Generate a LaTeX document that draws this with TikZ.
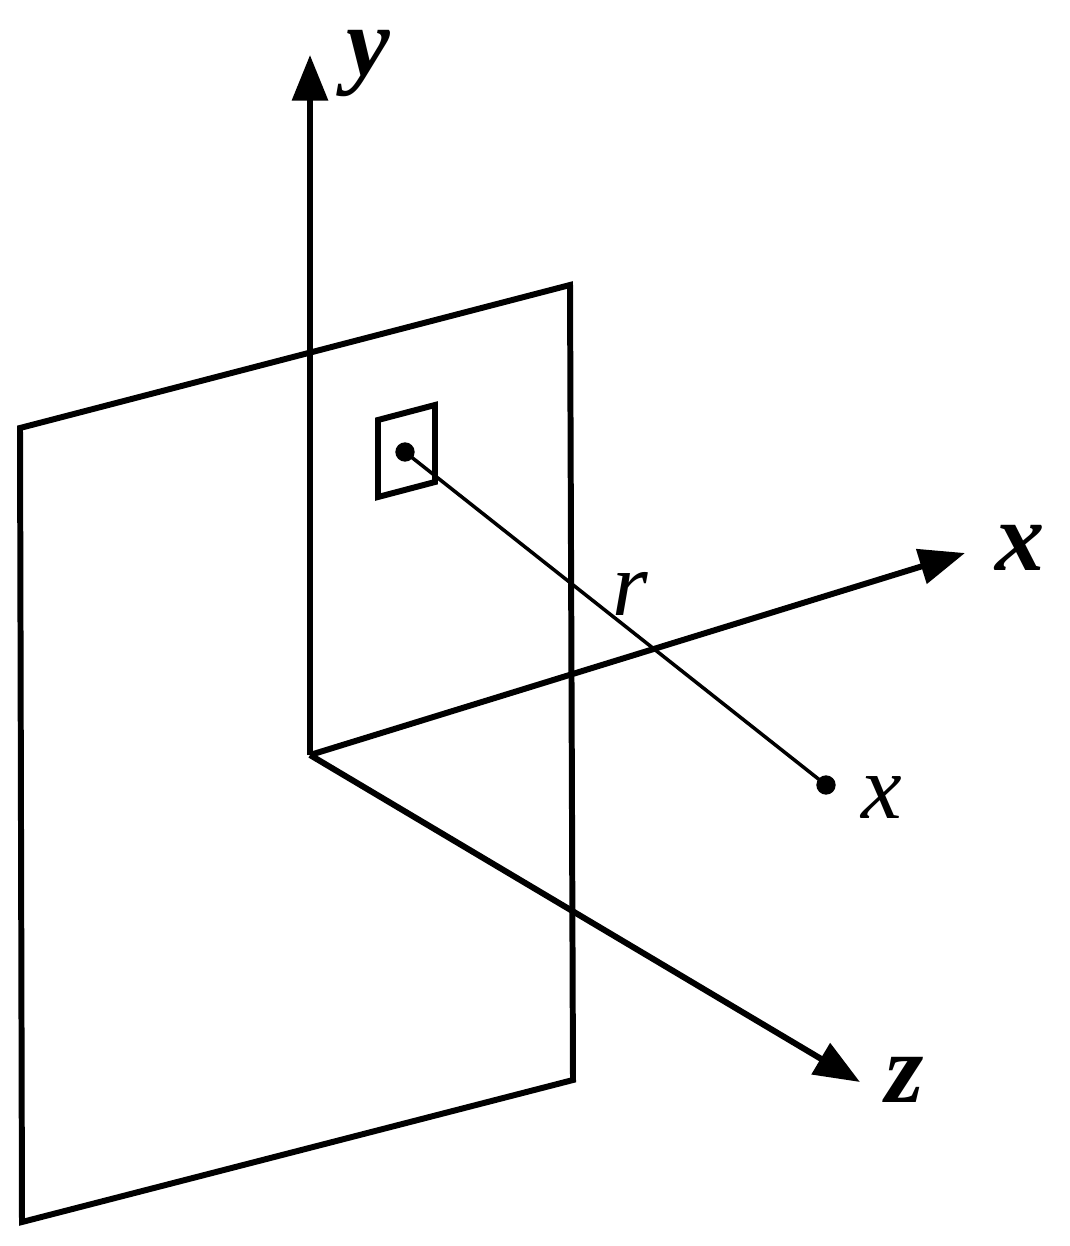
\documentclass[tikz,border=0pt]{standalone}
\usepackage{fontspec}
\setmainfont{Liberation Serif}
\usetikzlibrary{arrows.meta}
\begin{document}
\begin{tikzpicture}[x=0.01cm,y=-0.01cm,
  thick line/.style={line width=1.7pt},
  thin line/.style={line width=1pt},
  axis/.style={thick line,-{Triangle[length=13pt,width=10pt]}},
  biglab/.style={font=\fontsize{28}{32}\selectfont\bfseries\itshape},
  smalllab/.style={font=\fontsize{26}{30}\selectfont\itshape}]
\useasboundingbox (0,0) rectangle (1069,1246);
\draw[thick line] (20,428) -- (570,285) -- (573,1080) -- (22,1222) -- cycle;
\draw[thick line] (378,420) -- (435,405) -- (435,482) -- (378,497) -- cycle;
\coordinate (O) at (310,755);
\coordinate (Y) at (310,55);
\coordinate (X) at (965,553);
\coordinate (Z) at (860,1082);
\draw[axis] (O) -- (Y);
\draw[axis] (O) -- (X);
\draw[axis] (O) -- (Z);
\node[biglab] (ly) at (368,64) {y};
\node[biglab] (lx) at (1020,548) {x};
\node[biglab] (lz) at (905,1080) {z};
\node[circle,fill,inner sep=0pt,minimum size=5.5pt] (s) at (405,452) {};
\node[circle,fill,inner sep=0pt,minimum size=5.5pt] (p) at (826,785) {};
\draw[thin line] (s.center) -- (p.center);
\node[smalllab] (lr) at (630,594) {r};
\node[smalllab] (lp) at (882,798) {x};
\end{tikzpicture}
\end{document}
